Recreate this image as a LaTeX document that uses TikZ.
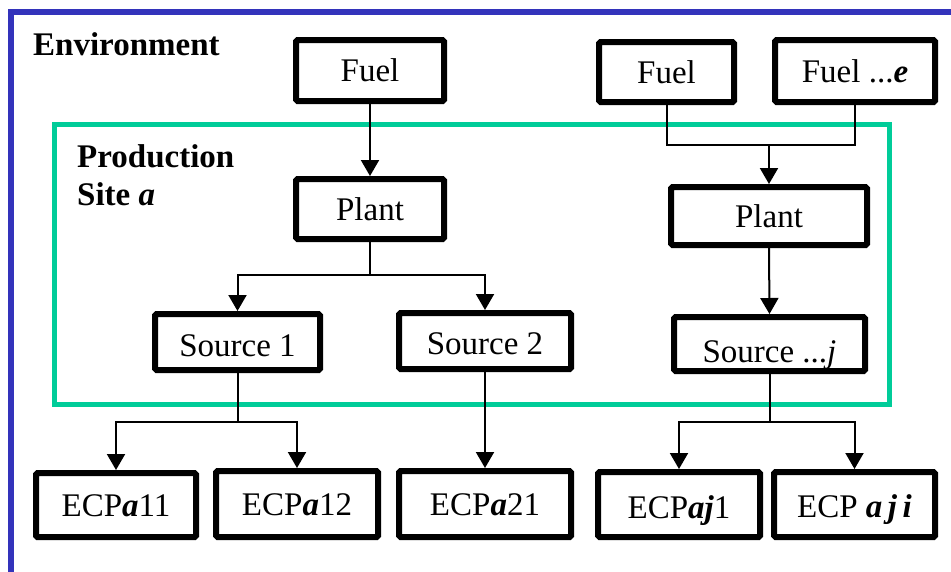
\documentclass[tikz,border=0pt]{standalone}
\usepackage{fontspec}
\setmainfont{Liberation Serif}
\usetikzlibrary{arrows.meta}
\definecolor{envblue}{RGB}{51,51,187}
\definecolor{sitegreen}{RGB}{0,204,153}
\newcommand{\bi}[1]{\textbf{\textit{#1}}}
\tikzset{
  blk/.style={draw=black, line width=6pt, rounded corners=1.5pt, inner sep=0pt,
    fill=white, font=\fontsize{33}{38}\selectfont, text height=22pt, text depth=0pt,
    align=center},
  conn/.style={draw=black, line width=2pt},
  arr/.style={conn, -{Triangle[width=18pt,length=16pt]}},
  lbl/.style={inner sep=0pt, font=\fontsize{33}{38}\selectfont\bfseries, anchor=base west}
}
\begin{document}
\begin{tikzpicture}[x=1pt,y=-1pt]
\clip (0,0) rectangle (951,571);
\fill[white] (0,0) rectangle (951,571);
% environment frame
\draw[envblue, line width=6pt] (11,575) -- (11,12) -- (955,12);
% production site frame
\draw[sitegreen, line width=5pt] (54.5,124.5) rectangle (889,404.5);
% labels
\node[lbl] (env) at (33,55) {Environment};
\node[lbl] (prod) at (77,167) {Production};
\node[lbl] (site) at (77,205) {Site \textit{a}};
% boxes
\node[blk, minimum width=148pt, minimum height=61pt] (fuelA) at (370,70.5) {Fuel};
\node[blk, minimum width=135pt, minimum height=60pt] (fuelB) at (666.5,72) {Fuel};
\node[blk, minimum width=160pt, minimum height=62pt] (fuelE) at (855,71) {Fuel ...\bi{e}};
\node[blk, minimum width=148pt, minimum height=60pt] (plantA) at (370,209) {Plant};
\node[blk, minimum width=196pt, minimum height=58pt] (plantB) at (769,216) {Plant};
\node[blk, minimum width=165pt, minimum height=56pt, text height=28pt] (srcA) at (237.5,342) {Source 1};
\node[blk, minimum width=172pt, minimum height=56pt, text height=26pt] (srcB) at (485,341) {Source 2};
\node[blk, minimum width=191pt, minimum height=54pt, text height=36pt] (srcJ) at (769.5,344) {Source ...\textit{j}};
\node[blk, minimum width=160pt, minimum height=64pt] (e11) at (116,505) {ECP\bi{a}11};
\node[blk, minimum width=162pt, minimum height=66pt] (e12) at (297,504) {ECP\bi{a}12};
\node[blk, minimum width=172pt, minimum height=66pt] (e21) at (485,504) {ECP\bi{a}21};
\node[blk, minimum width=162pt, minimum height=65pt, text height=27pt] (ej1) at (679,504.5) {ECP\bi{aj}1};
\node[blk, minimum width=161pt, minimum height=65pt, text height=25pt] (eji) at (854.5,504.5) {ECP \bi{a\,j\,i}};
% connectors
\coordinate (jA) at (370,275);
\coordinate (jB) at (769,145);
\coordinate (jS1) at (237.5,422);
\coordinate (jSJ) at (769.5,422);
\draw[arr] (fuelA.south) -- (plantA.north);
\draw[conn] (fuelB.south) |- (jB) -| (fuelE.south);
\draw[arr] (jB) -- (plantB.north);
\draw[conn] (plantA.south) -- (jA);
\draw[arr] (jA) -| (srcA.north);
\draw[arr] (jA) -| (srcB.north);
\draw[arr] (plantB.south) -- (srcJ.north);
\draw[conn] (srcA.south) -- (jS1);
\draw[arr] (jS1) -| (e11.north);
\draw[arr] (jS1) -| (e12.north);
\draw[arr] (srcB.south) -- (e21.north);
\draw[conn] (srcJ.south) -- (jSJ);
\draw[arr] (jSJ) -| (ej1.north);
\draw[arr] (jSJ) -| (eji.north);
\end{tikzpicture}
\end{document}
